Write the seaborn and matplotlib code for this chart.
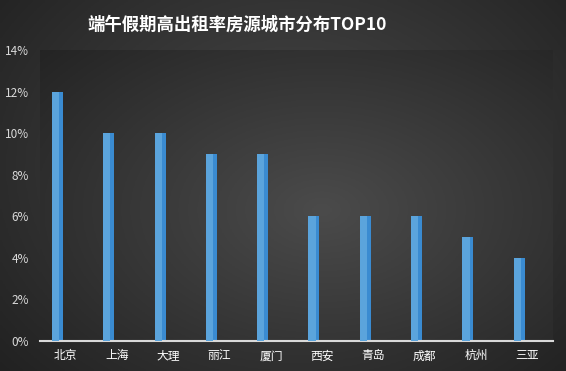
import matplotlib
matplotlib.use("Agg")
import matplotlib.pyplot as plt
import numpy as np
import pandas as pd
import seaborn as sns
from matplotlib.ticker import PercentFormatter

cities = ["北京", "上海", "大理", "丽江", "厦门", "西安", "青岛", "成都", "杭州", "三亚"]
shares = [12, 10, 10, 9, 9, 6, 6, 6, 5, 4]
title = "端午假期高出租率房源城市分布TOP10"
yticks = [0, 2, 4, 6, 8, 10, 12, 14]

LIGHT = "#5ba4dc"
DARK = "#3a8bd1"


def radial(w, h, cx, cy, inner, outer, sx=1.0, sy=1.0):
    xx, yy = np.meshgrid(np.linspace(0, 1, w), np.linspace(0, 1, h))
    r = np.sqrt(((xx - cx) / sx) ** 2 + ((yy - cy) / sy) ** 2)
    r = np.clip(r, 0, 1)[..., None]
    inner = np.array(matplotlib.colors.to_rgb(inner))
    outer = np.array(matplotlib.colors.to_rgb(outer))
    return inner + (outer - inner) * r


sns.set_theme(style="white")
plt.rcParams["font.family"] = ["Noto Sans CJK SC", "DejaVu Sans"]

df = pd.DataFrame({"city": cities, "share": shares})

fig = plt.figure(figsize=(5.66, 3.71), dpi=100)

# figure background
bg = fig.add_axes([0, 0, 1, 1], zorder=-10)
bg.imshow(radial(200, 140, 0.52, 0.45, "#4a4a4a", "#1e1e1e", 0.75, 0.9),
          aspect="auto", extent=[0, 1, 0, 1], origin="upper")
bg.set_axis_off()

ax = fig.add_axes([40 / 566, 30 / 371, 513 / 566, 291 / 371])
ax.set_facecolor("none")
ax.imshow(radial(200, 140, 0.55, 0.55, "#4b4b4b", "#232323", 0.75, 0.85),
          aspect="auto", extent=[0, 1, 0, 1], origin="upper",
          transform=ax.transAxes, zorder=0)

full_w, light_w, shift = 0.215, 0.14, -0.16
sns.barplot(data=df, x="city", y="share", color=DARK, width=full_w,
            saturation=1, ax=ax, zorder=2)
n = len(ax.patches)
sns.barplot(data=df, x="city", y="share", color=LIGHT, width=light_w,
            saturation=1, ax=ax, zorder=3)
for i, p in enumerate(ax.patches):
    if i < n:
        p.set_x(p.get_x() + shift)
    else:
        p.set_x(p.get_x() + shift - (full_w - light_w) / 2)
    p.set_linewidth(0)

ax.set_xlim(-0.5, len(cities) - 0.5)
ax.set_ylim(0, 14)
ax.set_yticks(yticks)
ax.yaxis.set_major_formatter(PercentFormatter(decimals=0))
ax.set_xlabel("")
ax.set_ylabel("")
ax.tick_params(axis="y", colors="#d9d9d9", labelsize=8.5, length=0, pad=8)
ax.tick_params(axis="x", colors="white", labelsize=8.5, length=0, pad=6)
for s in ["top", "right", "left"]:
    ax.spines[s].set_visible(False)
ax.spines["bottom"].set_color("#d9d9d9")
ax.spines["bottom"].set_linewidth(1.5)
ax.grid(False)

fig.text(237 / 566, 1 - 25 / 371, title, ha="center", va="center",
         color="white", fontsize=12.5, fontweight="bold")

fig.savefig("out.png", dpi=100)
